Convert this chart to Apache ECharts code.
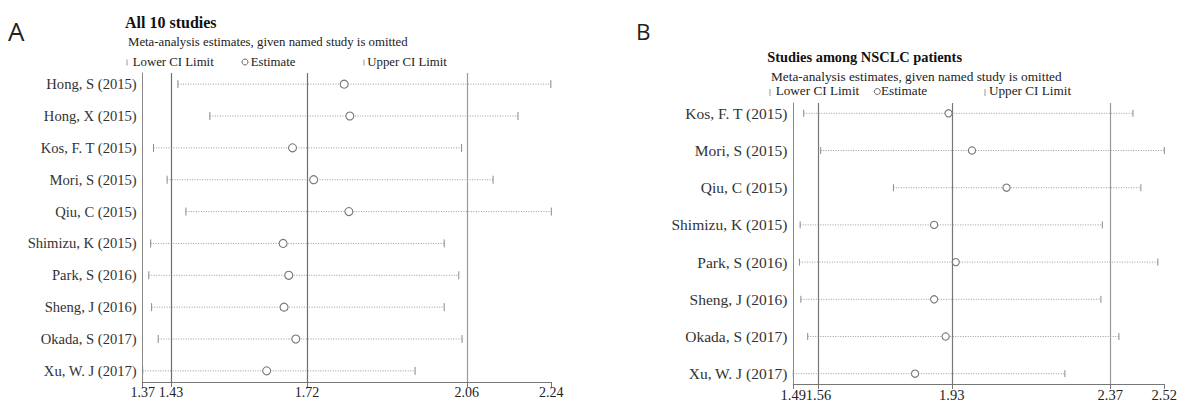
<!DOCTYPE html>
<html>
<head>
<meta charset="utf-8">
<script src="https://cdn.jsdelivr.net/npm/echarts@6/dist/echarts.min.js"></script>
<style>
  html, body { margin: 0; padding: 0; background: #fff; }
  #chart { width: 1189px; height: 403px; }
</style>
</head>
<body>
<div id="chart"></div>
<script>
// panel A: all 10 studies
const studiesA = ['Hong, S (2015)', 'Hong, X (2015)', 'Kos, F. T (2015)', 'Mori, S (2015)', 'Qiu, C (2015)',
  'Shimizu, K (2015)', 'Park, S (2016)', 'Sheng, J (2016)', 'Okada, S (2017)', 'Xu, W. J (2017)'];
const lowerA = [1.445, 1.513, 1.393, 1.422, 1.462, 1.387, 1.383, 1.389, 1.403, 1.370];
const estA = [1.799, 1.811, 1.689, 1.734, 1.809, 1.669, 1.681, 1.671, 1.696, 1.634];
const upperA = [2.239, 2.169, 2.049, 2.116, 2.240, 2.012, 2.043, 2.012, 2.050, 1.950];
const refA = [1.43, 1.72, 2.06];
const ticksA = [1.37, 1.43, 1.72, 2.06, 2.24];

// panel B: NSCLC studies
const studiesB = ['Kos, F. T (2015)', 'Mori, S (2015)', 'Qiu, C (2015)', 'Shimizu, K (2015)',
  'Park, S (2016)', 'Sheng, J (2016)', 'Okada, S (2017)', 'Xu, W. J (2017)'];
const lowerB = [1.519, 1.566, 1.768, 1.509, 1.507, 1.511, 1.530, 1.490];
const estB = [1.921, 1.986, 2.082, 1.881, 1.941, 1.881, 1.913, 1.828];
const upperB = [2.433, 2.520, 2.455, 2.348, 2.502, 2.344, 2.394, 2.244];
const refB = [1.56, 1.93, 2.37];
const ticksB = [1.49, 1.56, 1.93, 2.37, 2.52];

const serif = '"Liberation Serif", "Times New Roman", serif';

function ciRenderer(capH, r) {
  return function (params, api) {
    const row = api.value(0);
    const lo = api.coord([api.value(1), row]);
    const es = api.coord([api.value(2), row]);
    const up = api.coord([api.value(3), row]);
    return {
      type: 'group',
      children: [
        { type: 'line', shape: { x1: lo[0], y1: lo[1], x2: up[0], y2: up[1] },
          style: { stroke: '#9a9a9a', lineWidth: 1, lineDash: [1, 1.5] } },
        { type: 'line', shape: { x1: lo[0], y1: lo[1] - capH, x2: lo[0], y2: lo[1] + capH },
          style: { stroke: '#8a8a8a', lineWidth: 1 } },
        { type: 'line', shape: { x1: up[0], y1: up[1] - capH, x2: up[0], y2: up[1] + capH },
          style: { stroke: '#8a8a8a', lineWidth: 1 } },
        { type: 'circle', shape: { cx: es[0], cy: es[1], r: r },
          style: { fill: '#fff', stroke: '#777', lineWidth: 1.1 } },
      ],
    };
  };
}

function xAxisFor(idx, min, max, ticks, size) {
  return {
    type: 'value', gridIndex: idx, min: min, max: max,
    axisLine: { show: true, onZero: false, lineStyle: { color: '#777', width: 1 } },
    axisTick: { show: true, customValues: ticks, length: 5, lineStyle: { color: '#777' } },
    axisLabel: { customValues: ticks, formatter: (v) => v.toFixed(2), color: '#222',
      fontFamily: serif, fontSize: size, margin: 3 },
    splitLine: { show: false },
  };
}

function yAxisFor(idx, names, pad, size) {
  return {
    type: 'value', gridIndex: idx, inverse: true, min: -pad, max: names.length - 1 + pad,
    axisLine: { show: true, onZero: false, lineStyle: { color: '#888', width: 1 } },
    axisTick: { show: false },
    axisLabel: { customValues: names.map((n, i) => i), formatter: (v) => names[Math.round(v)] || '',
      color: '#333', fontFamily: serif, fontSize: size, margin: 6 },
    splitLine: { show: false },
  };
}

function refLines(idx, values, colors) {
  return {
    type: 'line', xAxisIndex: idx, yAxisIndex: idx, data: [], silent: true,
    markLine: {
      symbol: 'none', silent: true, label: { show: false },
      data: values.map((v, i) => ({ xAxis: v, lineStyle: { color: colors[i], width: 1.2, type: 'solid' } })),
    },
  };
}

function ciData(lower, est, upper) {
  return est.map((e, i) => [i, lower[i], e, upper[i]]);
}

function txt(x, y, text, size, opts) {
  return {
    type: 'text', x: x, y: y, silent: true,
    style: Object.assign({ text: text, font: size + 'px ' + serif, fill: '#222',
      textAlign: 'left', textVerticalAlign: 'middle' }, opts || {}),
  };
}
function bar(x, y, h) {
  return { type: 'line', silent: true, shape: { x1: x, y1: y - h / 2, x2: x, y2: y + h / 2 },
    style: { stroke: '#999', lineWidth: 1 } };
}
function ring(x, y) {
  return { type: 'circle', silent: true, shape: { cx: x, cy: y, r: 3 },
    style: { fill: '#fff', stroke: '#666', lineWidth: 1 } };
}

const chart = echarts.init(document.getElementById('chart'), null, { renderer: 'svg' });
chart.setOption({
  animation: false,
  grid: [
    { left: 142.7, top: 73, width: 408.6, height: 309 },
    { left: 793.3, top: 103, width: 371, height: 281 },
  ],
  xAxis: [
    xAxisFor(0, 1.37, 2.24, ticksA, 14),
    xAxisFor(1, 1.49, 2.52, ticksB, 14.5),
  ],
  yAxis: [
    yAxisFor(0, studiesA, 0.35, 14.6),
    yAxisFor(1, studiesB, 0.277, 15.5),
  ],
  series: [
    refLines(0, refA, ['#6f6f6f', '#6f6f6f', '#9a9a9a']),
    refLines(1, refB, ['#777', '#777', '#999']),
    {
      type: 'custom', xAxisIndex: 0, yAxisIndex: 0,
      encode: { x: [1, 2, 3], y: 0 },
      renderItem: ciRenderer(4, 4),
      data: ciData(lowerA, estA, upperA),
    },
    {
      type: 'custom', xAxisIndex: 1, yAxisIndex: 1,
      encode: { x: [1, 2, 3], y: 0 },
      renderItem: ciRenderer(3.5, 3.6),
      data: ciData(lowerB, estB, upperB),
    },
  ],
  graphic: [
    txt(8, 31, 'A', 26, { font: '26px "Open Sans", "DejaVu Sans", sans-serif' }),
    txt(636, 31, 'B', 22.5, { font: '22.5px "Open Sans", "DejaVu Sans", sans-serif' }),

    txt(125, 22.5, 'All 10 studies', 16, { font: 'bold 16px ' + serif, fill: '#111' }),
    txt(128, 42, 'Meta-analysis estimates, given named study is omitted', 12.8),
    bar(127, 62.5, 6), txt(132.7, 61.5, 'Lower CI Limit', 12.8),
    ring(245, 62), txt(250.7, 61.5, 'Estimate', 12.8),
    bar(364, 62.5, 6), txt(367.3, 61.5, 'Upper CI Limit', 12.8),

    txt(767.3, 57, 'Studies among NSCLC patients', 14.4, { font: 'bold 14.4px ' + serif, fill: '#111' }),
    txt(771, 76.3, 'Meta-analysis estimates, given named study is omitted', 13.3),
    bar(770, 92.5, 7), txt(775.7, 90.7, 'Lower CI Limit', 13.2),
    ring(877.3, 91.5), txt(881, 90.7, 'Estimate', 13.2),
    bar(985, 92.5, 7), txt(989, 90.7, 'Upper CI Limit', 13.2),
  ],
});
</script>
</body>
</html>
